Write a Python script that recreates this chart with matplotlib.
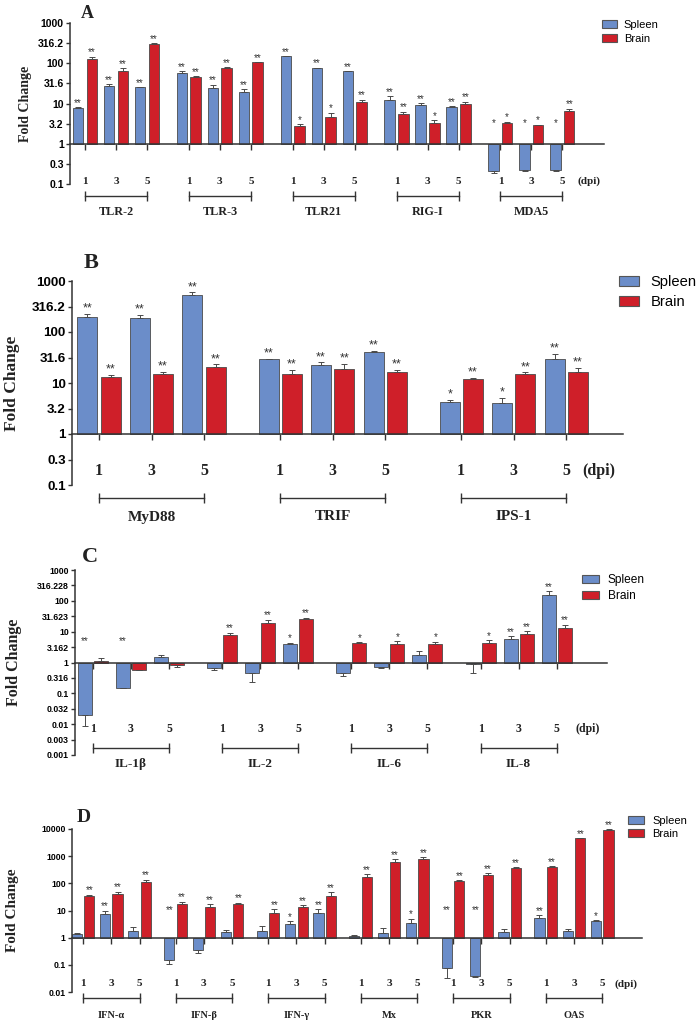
"""Fold change of innate immune genes in spleen and brain (panels A-D), log scale."""

import matplotlib

matplotlib.use("Agg")
import matplotlib.pyplot as plt
import numpy as np
from matplotlib.patches import Patch
from matplotlib.ticker import NullLocator
from matplotlib.transforms import blended_transform_factory

W, H = 697, 1024
BLUE = "#6b8dc9"
RED = "#cf1f29"
EDGE = "#4a4a4a"
INK = "#222222"
SANS = "Liberation Sans"
SERIF = "Liberation Serif"

DAYS = ["1", "3", "5"]
SERIES = ["Spleen", "Brain"]

# ---- panel A: PRRs
A_GENES = ["TLR-2", "TLR-3", "TLR21", "RIG-I", "MDA5"]
A_SPLEEN = [7.6, 26.6, 25, 57, 23.7, 18.9, 148, 76, 63, 12.2, 9.3, 8.3, 0.21, 0.226, 0.226]
A_SPLEEN_ERR = [0.4, 4, 0.5, 6, 5.5, 4, 2, 2, 1, 3, 1, 0.3, 0.02, 0.01, 0.01]
A_BRAIN = [130, 63, 305, 46, 76, 105, 2.75, 4.6, 10.9, 5.6, 3.3, 10, 3.3, 2.9, 6.7]
A_BRAIN_ERR = [15, 13, 8, 2, 3, 2, 0.35, 1.3, 1.5, 0.6, 0.5, 1, 0.2, 0.1, 0.7]
A_SPLEEN_SIG = ["**"] * 12 + ["*"] * 3
A_BRAIN_SIG = ["**", "**", "**", "**", "**", "**", "*", "*", "**", "**", "*", "**", "*", "*", "**"]
A_YTICKS = [0.1, 0.316, 1, 3.162, 10, 31.62, 100, 316.2, 1000]
A_YLABELS = ["0.1", "0.3", "1", "3.2", "10", "31.6", "100", "316.2", "1000"]

# ---- panel B: adaptors
B_GENES = ["MyD88", "TRIF", "IPS-1"]
B_SPLEEN = [194, 191, 537, 29.5, 22.9, 40.5, 4.2, 4.1, 29.5]
B_SPLEEN_ERR = [34, 24, 63, 0.5, 2.5, 1.5, 0.4, 1.0, 7.5]
B_BRAIN = [13.1, 15, 21, 15, 18.8, 16.4, 11.8, 14.8, 16.2]
B_BRAIN_ERR = [1.2, 1.4, 2.2, 3.3, 4.8, 1.5, 0.9, 1.4, 3.8]
B_SPLEEN_SIG = ["**"] * 6 + ["*", "*", "**"]
B_BRAIN_SIG = ["**"] * 9
B_YTICKS = A_YTICKS
B_YLABELS = A_YLABELS

# ---- panel C: interleukins
C_GENES = ["IL-1β", "IL-2", "IL-6", "IL-8"]
C_SPLEEN = [0.0205, 0.149, 1.56, 0.64, 0.45, 3.9, 0.47, 0.69, 1.8, 0.88, 5.8, 156]
C_SPLEEN_ERR = [0.0115, 0.003, 0.16, 0.07, 0.22, 0.5, 0.1, 0.05, 0.58, 0.43, 1.4, 48]
C_BRAIN = [1.13, 0.59, 0.86, 7.6, 19, 25.6, 4.2, 3.9, 4.1, 4.2, 8.6, 13.5]
C_BRAIN_ERR = [0.22, 0.03, 0.12, 1.7, 5.4, 2.7, 0.45, 1.1, 0.66, 1.2, 1.9, 3.3]
C_SPLEEN_SIG = ["**", "**", "", "", "", "*", "", "", "", "", "**", "**"]
C_BRAIN_SIG = ["", "", "", "**", "**", "**", "*", "*", "*", "*", "**", "**"]
C_YTICKS = [0.001, 0.00316, 0.01, 0.0316, 0.1, 0.316, 1, 3.162, 10, 31.62, 100, 316.2, 1000]
C_YLABELS = ["0.001", "0.003", "0.01", "0.032", "0.1", "0.316", "1", "3.162",
             "10", "31.623", "100", "316.228", "1000"]

# ---- panel D: interferons and ISGs
D_GENES = ["IFN-α", "IFN-β", "IFN-γ", "Mx", "PKR", "OAS"]
D_SPLEEN = [1.33, 7.7, 1.77, 0.145, 0.36, 1.58, 1.77, 3.3, 8.2,
            1.19, 1.49, 3.6, 0.075, 0.04, 1.67, 5.2, 1.77, 4.0]
D_SPLEEN_ERR = [0.16, 2.3, 0.7, 0.036, 0.09, 0.29, 0.93, 0.84, 3,
                0.05, 0.7, 1.45, 0.042, 0.003, 0.5, 1.5, 0.4, 0.3]
D_BRAIN = [34, 39, 115, 18, 12.9, 16.7, 8.2, 13.7, 34,
           167, 620, 775, 122, 198, 360, 415, 4500, 8900]
D_BRAIN_ERR = [4, 11, 22, 3, 4.2, 2.5, 2.7, 2.1, 13.7,
               48, 154, 165, 11, 36, 30, 22, 100, 1100]
D_SPLEEN_SIG = ["", "**", "", "**", "", "", "", "*", "**",
                "", "", "*", "**", "**", "", "**", "", "*"]
D_BRAIN_SIG = ["**"] * 18
D_YTICKS = [0.01, 0.1, 1, 10, 100, 1000, 10000]
D_YLABELS = ["0.01", "0.1", "1", "10", "100", "1000", "10000"]

# layout in pixels of the 697x1024 figure
LAYOUT = {
    "A": dict(box=(70, 23, 604, 184), x0=85, unit=31, gap=3.35, width=0.34, off=0.22,
              ylim=(0.1, 1000), tick_fs=7.5, ylab=(26, 10), sig_fs=7, neg_sig=11,
              dpi_y=181, dpi_fs=8, dpi_dx=0.85, brk_y=196, gene_y=212, gene_fs=8.7,
              letter=(87, 13, 13), legend=(602, 20, 8, 1.35, 0.72, 0.35, 0.6)),
    "B": dict(box=(72, 281, 623, 485), x0=99, unit=52.5, gap=3.45, width=0.38, off=0.22,
              ylim=(0.1, 1000), tick_fs=9.7, ylab=(12, 12.5), sig_fs=9, neg_sig=12,
              dpi_y=471, dpi_fs=11.5, dpi_dx=0.62, brk_y=498, gene_y=517, gene_fs=11,
              letter=(91, 263, 16), legend=(619, 275, 10.6, 1.36, 0.68, 0.43, 0.8)),
    "C": dict(box=(75, 570, 607, 755), x0=93, unit=38, gap=3.4, width=0.37, off=0.21,
              ylim=(0.001, 1000), tick_fs=6.3, ylab=(14, 11.5), sig_fs=7, neg_sig=12,
              dpi_y=729, dpi_fs=8.5, dpi_dx=0.82, brk_y=748, gene_y=764, gene_fs=9.5,
              letter=(90, 557, 16), legend=(582, 574, 8.6, 1.42, 0.7, 0.35, 0.75)),
    "D": dict(box=(72, 829, 642, 992), x0=83, unit=28.3, gap=3.27, width=0.36, off=0.22,
              ylim=(0.01, 10000), tick_fs=6.2, ylab=(13, 11), sig_fs=7, neg_sig=16,
              dpi_y=984, dpi_fs=8, dpi_dx=0.82, brk_y=998, gene_y=1015, gene_fs=7.5,
              letter=(84, 817, 14), legend=(628, 816, 8, 1.44, 0.72, 0.3, 0.72)),
}


def fy(py):
    return 1 - py / H


def draw_series(ax, xs, vals, errs, sigs, color, sig_fs, neg_sig, width):
    vals = np.asarray(vals, dtype=float)
    errs = np.asarray(errs, dtype=float)
    ax.bar(xs, vals - 1, bottom=1, width=width, color=color, edgecolor=EDGE,
           linewidth=0.6, zorder=2)
    lower = np.where(vals < 1, errs, 0)
    upper = np.where(vals >= 1, errs, 0)
    ax.errorbar(xs, vals, yerr=[lower, upper], fmt="none", ecolor=EDGE,
                elinewidth=0.7, capsize=2, capthick=0.7, zorder=3)
    for x, v, e, s in zip(xs, vals, errs, sigs):
        if not s:
            continue
        if v >= 1:
            ax.annotate(s, (x, v + e), xytext=(0, -0.5), textcoords="offset points",
                        ha="center", va="bottom", fontsize=sig_fs, color="#333333",
                        family=SANS, annotation_clip=False)
        else:
            ax.annotate(s, (x, 1), xytext=(0, neg_sig), textcoords="offset points",
                        ha="center", va="bottom", fontsize=sig_fs, color="#333333",
                        family=SANS, annotation_clip=False)


def draw_panel(fig, key, genes, spleen, spleen_err, brain, brain_err,
               spleen_sig, brain_sig, yticks, ylabels):
    L = LAYOUT[key]
    left, top, right, bottom = L["box"]
    ax = fig.add_axes([left / W, fy(bottom), (right - left) / W, (bottom - top) / H])
    ax.set_xlim((left - L["x0"]) / L["unit"], (right - L["x0"]) / L["unit"])
    ax.set_yscale("log")
    ax.set_ylim(*L["ylim"])

    days = np.array([g * L["gap"] + d for g in range(len(genes)) for d in range(3)])
    draw_series(ax, days - L["off"], spleen, spleen_err, spleen_sig, BLUE,
                L["sig_fs"], L["neg_sig"], L["width"])
    draw_series(ax, days + L["off"], brain, brain_err, brain_sig, RED,
                L["sig_fs"], L["neg_sig"], L["width"])

    for side in ("top", "right"):
        ax.spines[side].set_visible(False)
    ax.spines["bottom"].set_position(("data", 1))
    for side in ("left", "bottom"):
        ax.spines[side].set_color("#333333")
        ax.spines[side].set_linewidth(1.1)
    ax.set_xticks(days)
    ax.set_xticklabels([])
    ax.tick_params(axis="x", length=4, width=1, color="#333333", direction="out")
    ax.set_yticks(yticks)
    ax.set_yticklabels(ylabels, fontsize=L["tick_fs"], fontweight="bold", family=SANS)
    ax.yaxis.set_minor_locator(NullLocator())
    ax.tick_params(axis="y", length=3, width=1, color="#333333", pad=1.5)

    lx, lfs = L["ylab"]
    fig.text(lx / W, fy((top + bottom) / 2), "Fold Change", rotation=90, ha="center",
             va="center", fontsize=lfs, fontweight="bold", family=SERIF, color=INK)

    tr = blended_transform_factory(ax.transData, fig.transFigure)
    for x, d in zip(days, DAYS * len(genes)):
        ax.text(x, fy(L["dpi_y"]), d, transform=tr, ha="center", va="center",
                fontsize=L["dpi_fs"], fontweight="bold", family=SERIF, color=INK)
    ax.text(days[-1] + L["dpi_dx"], fy(L["dpi_y"]), "(dpi)", transform=tr, ha="center",
            va="center", fontsize=L["dpi_fs"], fontweight="bold", family=SERIF, color=INK)
    for g, name in enumerate(genes):
        x1, x2 = days[3 * g], days[3 * g + 2]
        ax.plot([x1, x2], [fy(L["brk_y"])] * 2, transform=tr, color="#333333", lw=1,
                marker="|", ms=7, mew=1, clip_on=False)
        ax.text((x1 + x2) / 2, fy(L["gene_y"]), name, transform=tr, ha="center",
                va="center", fontsize=L["gene_fs"], fontweight="bold", family=SERIF, color=INK)

    px, py, pfs = L["letter"]
    fig.text(px / W, fy(py), key, ha="center", va="center", fontsize=pfs,
             fontweight="bold", family=SERIF, color=INK)

    gx, gy, gfs, hl, hh, ls, tp = L["legend"]
    handles = [Patch(facecolor=c, edgecolor="#555555", linewidth=0.8, label=s)
               for c, s in zip([BLUE, RED], SERIES)]
    fig.legend(handles=handles, loc="upper left", bbox_to_anchor=(gx / W, fy(gy)),
               frameon=False, prop={"family": SANS, "size": gfs}, handlelength=hl,
               handleheight=hh, labelspacing=ls, handletextpad=tp, borderpad=0,
               borderaxespad=0)
    return ax


def main() -> None:
    fig = plt.figure(figsize=(W / 100, H / 100), dpi=100)
    draw_panel(fig, "A", A_GENES, A_SPLEEN, A_SPLEEN_ERR, A_BRAIN, A_BRAIN_ERR,
               A_SPLEEN_SIG, A_BRAIN_SIG, A_YTICKS, A_YLABELS)
    draw_panel(fig, "B", B_GENES, B_SPLEEN, B_SPLEEN_ERR, B_BRAIN, B_BRAIN_ERR,
               B_SPLEEN_SIG, B_BRAIN_SIG, B_YTICKS, B_YLABELS)
    draw_panel(fig, "C", C_GENES, C_SPLEEN, C_SPLEEN_ERR, C_BRAIN, C_BRAIN_ERR,
               C_SPLEEN_SIG, C_BRAIN_SIG, C_YTICKS, C_YLABELS)
    draw_panel(fig, "D", D_GENES, D_SPLEEN, D_SPLEEN_ERR, D_BRAIN, D_BRAIN_ERR,
               D_SPLEEN_SIG, D_BRAIN_SIG, D_YTICKS, D_YLABELS)
    fig.savefig("out.png", dpi=100, facecolor="white")


if __name__ == "__main__":
    main()
